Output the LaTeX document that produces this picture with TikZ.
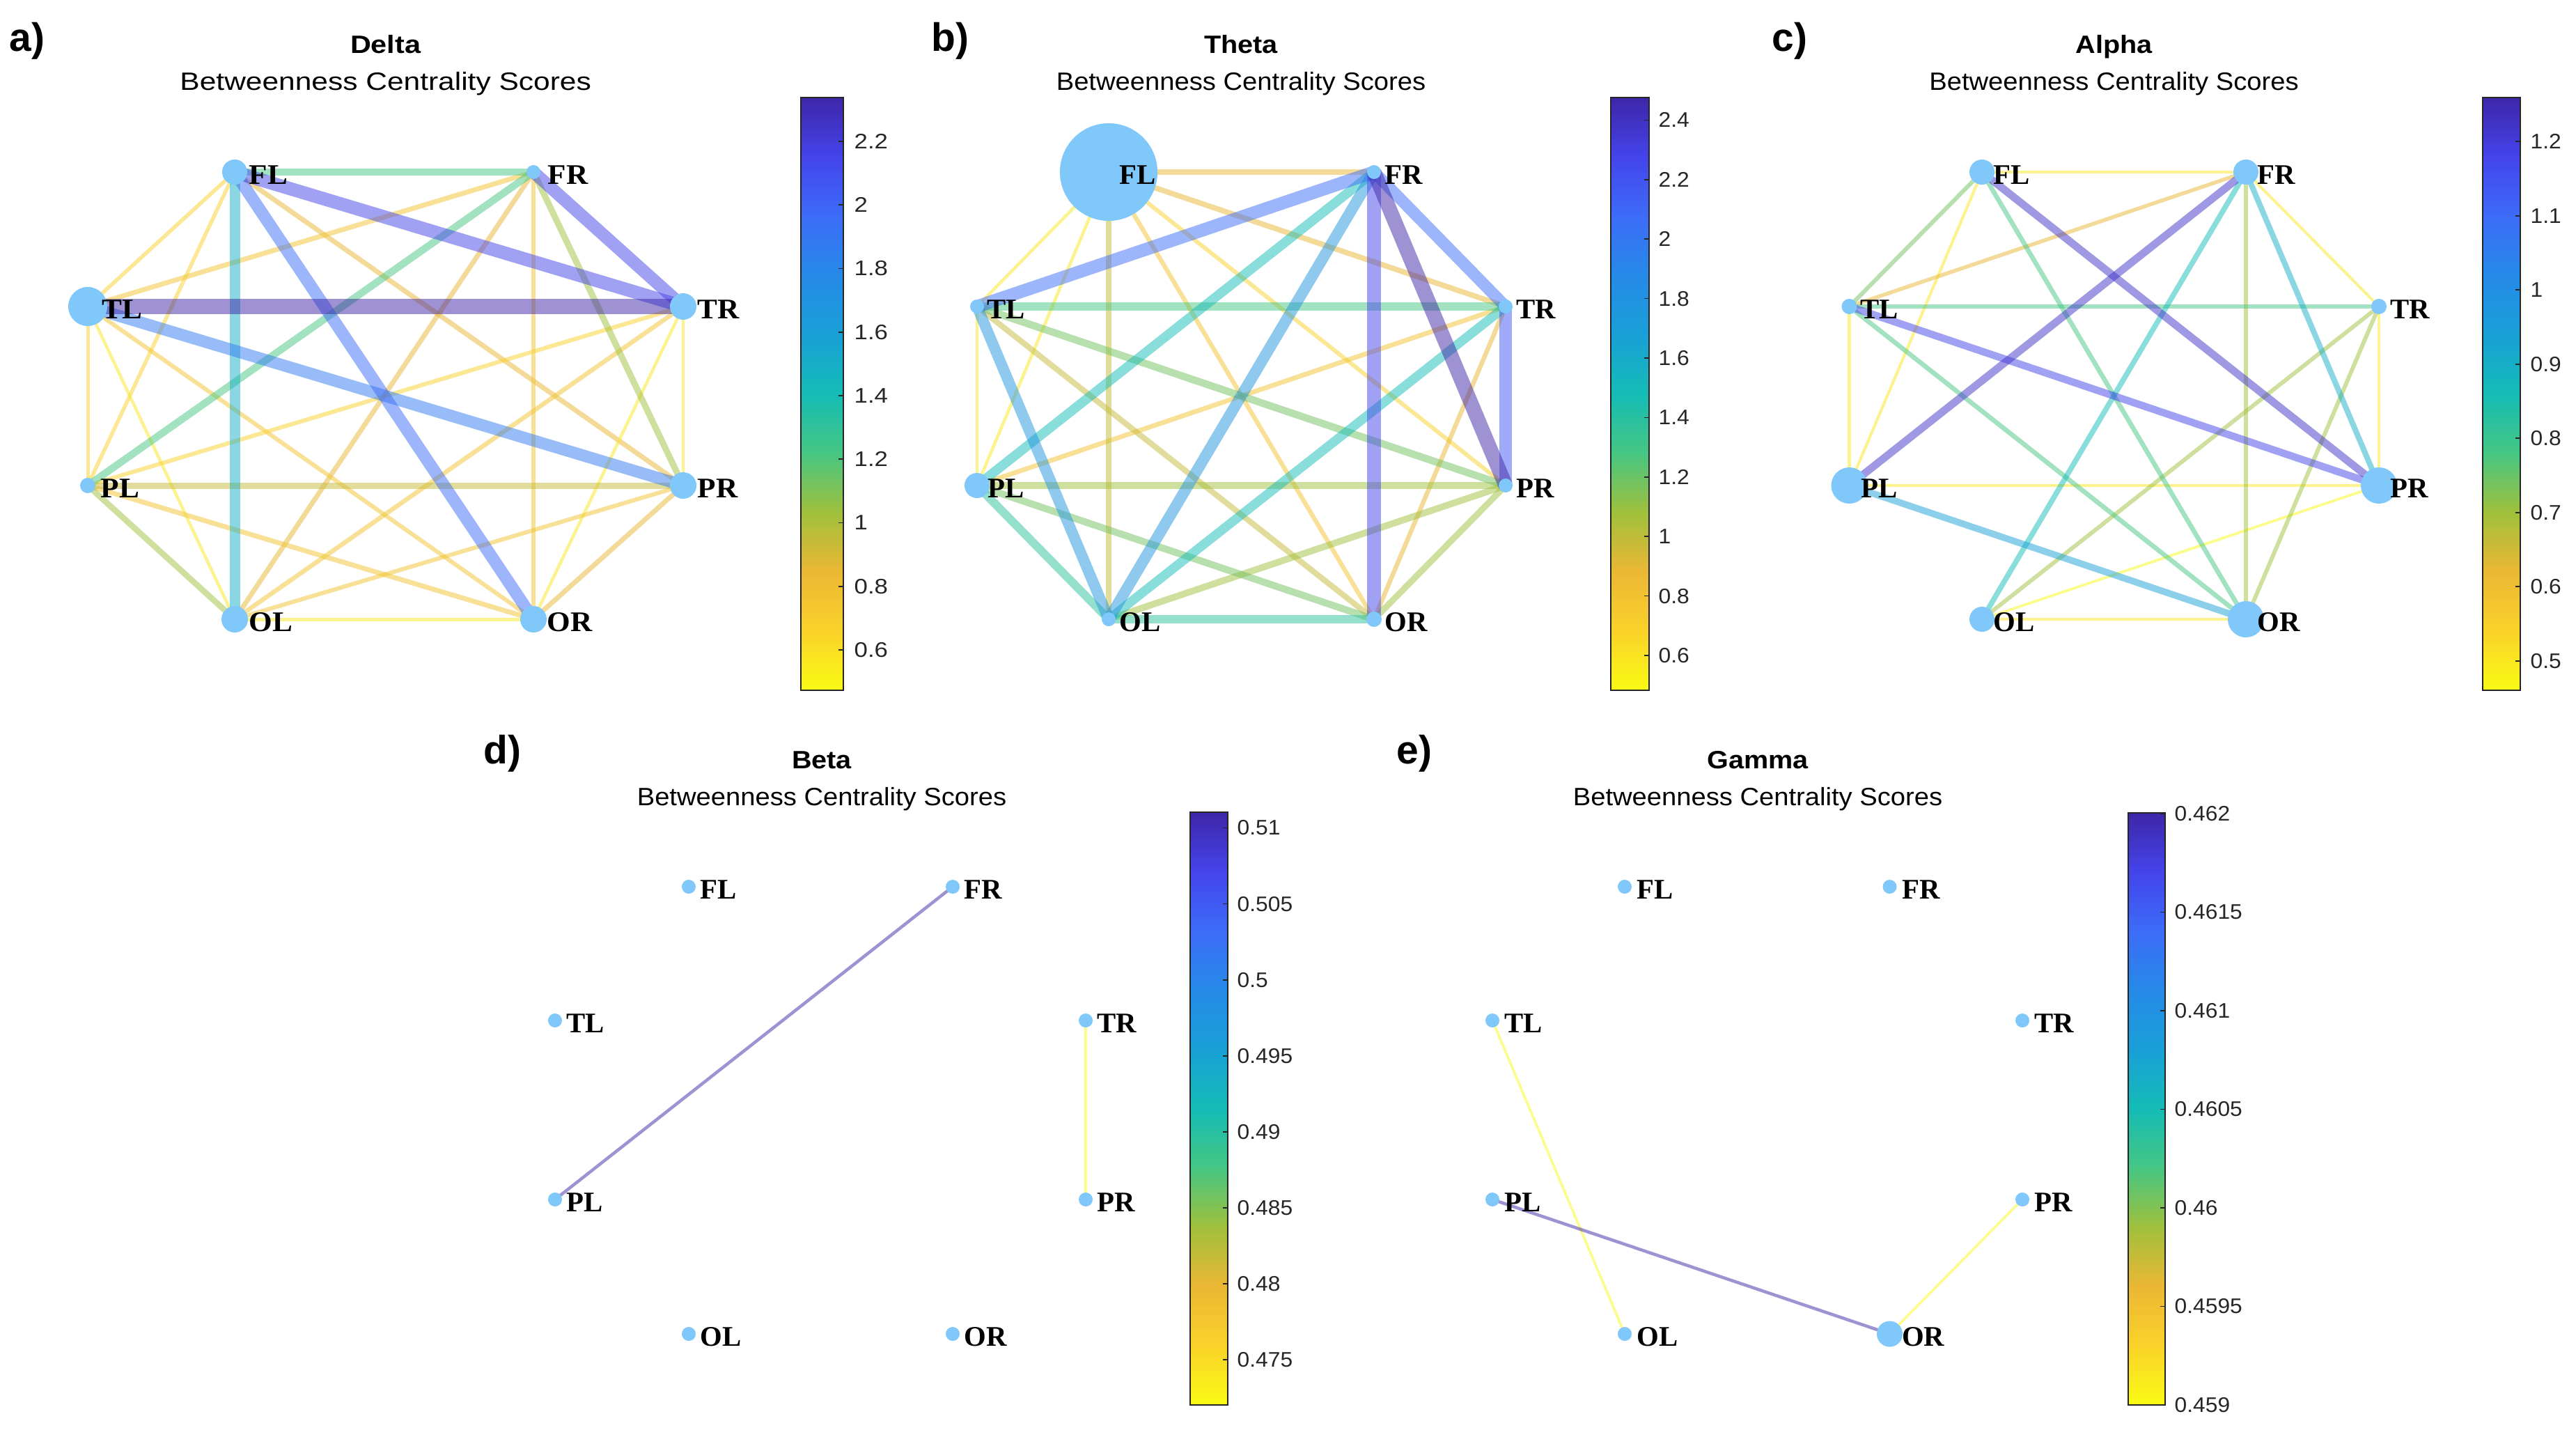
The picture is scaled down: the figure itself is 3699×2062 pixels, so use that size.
\documentclass[tikz,border=0pt]{standalone}
\usepackage{fontspec}
\setmainfont{Liberation Sans}
\newfontfamily\tms{Liberation Serif}
\usepackage{graphicx}
\definecolor{P0}{RGB}{62,38,168}
\definecolor{P1}{RGB}{68,68,235}
\definecolor{P2}{RGB}{60,108,248}
\definecolor{P3}{RGB}{38,138,232}
\definecolor{P4}{RGB}{25,160,215}
\definecolor{P5}{RGB}{20,188,182}
\definecolor{P6}{RGB}{70,198,130}
\definecolor{P7}{RGB}{160,192,60}
\definecolor{P8}{RGB}{235,183,52}
\definecolor{P9}{RGB}{250,210,42}
\definecolor{P10}{RGB}{249,251,20}
\colorlet{c0}{P0}\colorlet{c1}{P0!50!P1}\colorlet{c2}{P1}\colorlet{c3}{P1!50!P2}
\colorlet{c4}{P2}\colorlet{c5}{P2!50!P3}\colorlet{c6}{P3}\colorlet{c7}{P3!50!P4}
\colorlet{c8}{P4}\colorlet{c9}{P4!50!P5}\colorlet{c10}{P5}\colorlet{c11}{P5!50!P6}
\colorlet{c12}{P6}\colorlet{c13}{P6!50!P7}\colorlet{c14}{P7}\colorlet{c15}{P7!50!P8}
\colorlet{c16}{P8}\colorlet{c17}{P8!50!P9}\colorlet{c18}{P9}\colorlet{c19}{P9!50!P10}
\colorlet{c20}{P10}
\definecolor{nodecol}{RGB}{128,200,250}
\definecolor{tkgray}{RGB}{38,38,38}
\pgfdeclareverticalshading{parula}{100bp}{color(0bp)=(P10); color(25bp)=(P10); color(30bp)=(P9); color(35bp)=(P8); color(40bp)=(P7); color(45bp)=(P6); color(50bp)=(P5); color(55bp)=(P4); color(60bp)=(P3); color(65bp)=(P2); color(70bp)=(P1); color(75bp)=(P0); color(100bp)=(P0)}
\newcommand\hsc[2]{\scalebox{#1}[1]{#2}}
\newcommand\labsc{1.02}
\newcommand\eightcoords[9]{%
  \coordinate (#1FL) at (#2,#6); \coordinate (#1FR) at (#3,#6);
  \coordinate (#1TL) at (#4,#7); \coordinate (#1TR) at (#5,#7);
  \coordinate (#1PL) at (#4,#8); \coordinate (#1PR) at (#5,#8);
  \coordinate (#1OL) at (#2,#9); \coordinate (#1OR) at (#3,#9);}
\newcommand\ed[5]{\draw[edge, draw=c#4, line width=#5*0.2845pt] (#1#2) -- (#1#3);}
\newcommand\vx[4]{%
  \node[vtx, minimum size=#3*0.02cm] (#1#2v) at (#1#2) {};
  \node[lab, anchor=west] (#1#2l) at ([shift={(#4,4)}]#1#2) {\hsc{\labsc}{#2}};}
\newcommand\cbar[5]{% prefix, x1, x2, ytop, ybot
  \shade[shading=parula] (#2,#4) rectangle (#3,#5);
  \draw[cbf] (#2,#4) rectangle (#3,#5);}
\tikzset{
  edge/.style={draw opacity=0.5},
  vtx/.style={circle, fill=nodecol, draw=none, inner sep=0pt, outer sep=0pt},
  lab/.style={inner sep=0pt, font={\tms\bfseries\fontsize{11.6}{13}\selectfont}, text=black},
  ttl/.style={inner sep=0pt, font={\bfseries\fontsize{10.24}{12}\selectfont}, text=black},
  subt/.style={inner sep=0pt, font={\fontsize{10.24}{12}\selectfont}, text=black},
  tk/.style={inner sep=0pt, font={\fontsize{8.6}{10}\selectfont}, text=tkgray, anchor=west},
  plab/.style={inner sep=0pt, font={\bfseries\fontsize{16.2}{18}\selectfont}, text=black, anchor=base west},
  cbf/.style={draw=tkgray, line width=0.45pt},
  cbt/.style={draw=tkgray, line width=0.45pt}
}
\begin{document}
\begin{tikzpicture}[x=0.01cm,y=-0.01cm]
\fill[white] (0,0) rectangle (3699,2062);
\useasboundingbox (0,0) rectangle (3699,2062);

% ---------------- Panel a (Delta)
\renewcommand\labsc{1.06}
\eightcoords{a}{337}{766}{126}{981}{247}{440}{697}{889}
\ed{a}{FL}{TL}{18}{5.5}
\ed{a}{FL}{PL}{18}{5.5}
\ed{a}{FL}{PR}{16}{7}
\ed{a}{FR}{TL}{17}{7}
\ed{a}{FR}{OL}{16}{7}
\ed{a}{FR}{OR}{17}{6}
\ed{a}{TL}{PL}{18}{5}
\ed{a}{TL}{OL}{19}{4.5}
\ed{a}{TL}{OR}{17}{6}
\ed{a}{TR}{PL}{18}{6}
\ed{a}{TR}{OL}{17}{6.5}
\ed{a}{TR}{PR}{19}{4.5}
\ed{a}{TR}{OR}{19}{4.5}
\ed{a}{PL}{OR}{17}{7}
\ed{a}{PR}{OL}{17}{6}
\ed{a}{PR}{OR}{16}{7}
\ed{a}{OL}{OR}{19}{5}
\ed{a}{FL}{FR}{12}{10.5}
\ed{a}{FR}{PL}{12}{10.5}
\ed{a}{FR}{PR}{14}{9}
\ed{a}{PL}{PR}{15}{9}
\ed{a}{PL}{OL}{14}{8.5}
\ed{a}{FL}{OL}{9}{15}
\ed{a}{TL}{PR}{5}{17}
\ed{a}{FL}{OR}{4}{17.5}
\ed{a}{FL}{TR}{2}{19}
\ed{a}{FR}{TR}{2}{18}
\ed{a}{TL}{TR}{0}{21.5}
\vx{a}{FL}{18}{20}\vx{a}{FR}{10}{20}\vx{a}{TL}{28}{20}\vx{a}{TR}{19}{20}
\vx{a}{PL}{11}{18}\vx{a}{PR}{19}{20}\vx{a}{OL}{19}{20}\vx{a}{OR}{19}{19}
\node[ttl, anchor=base] (aT) at (553.7,76) {\hsc{1.15}{Delta}};
\node[subt, anchor=base] (aS) at (553.7,129.5) {\hsc{1.18}{Betweenness Centrality Scores}};
\node[plab] (aP) at (13,73) {a)};
\cbar{a}{1150}{1211}{140}{991}
\foreach \v/\y [count=\i] in {2.2/203,2/294.25,1.8/385.5,1.6/476.75,1.4/568,1.2/659.25,1/750.5,0.8/841.75,0.6/933}{
  \draw[cbt] (1204,\y) -- (1211,\y);
  \node[tk] (atk\i) at (1226,\y) {\hsc{1.15}{\v}};}

% ---------------- Panel b (Theta)
\renewcommand\labsc{1.0}
\eightcoords{b}{1592}{1973}{1403}{2162}{247}{440}{697}{889}
\ed{b}{FL}{TL}{19}{4.5}
\ed{b}{FL}{PL}{19}{4.5}
\ed{b}{TL}{PL}{19}{4}
\ed{b}{FL}{PR}{18}{5.9}
\ed{b}{FL}{OR}{17}{6.4}
\ed{b}{TR}{PL}{17}{6.8}
\ed{b}{TR}{OR}{16}{6.5}
\ed{b}{FL}{TR}{16}{7.7}
\ed{b}{FL}{FR}{16}{8}
\ed{b}{FL}{OL}{15}{8.5}
\ed{b}{TL}{OR}{15}{8.2}
\ed{b}{PR}{OR}{14}{9}
\ed{b}{PR}{OL}{14}{9.5}
\ed{b}{PL}{PR}{14}{9.5}
\ed{b}{PL}{OR}{13}{10}
\ed{b}{TL}{PR}{13}{10.5}
\ed{b}{PL}{OL}{11}{12}
\ed{b}{OL}{OR}{11}{12.5}
\ed{b}{TL}{TR}{12}{12.5}
\ed{b}{TR}{OL}{10}{13.2}
\ed{b}{FR}{PL}{10}{13.6}
\ed{b}{FR}{OL}{7}{16}
\ed{b}{TL}{OL}{7}{15.8}
\ed{b}{FR}{TL}{4}{18.4}
\ed{b}{FR}{TR}{4}{17}
\ed{b}{TR}{PR}{3}{18.5}
\ed{b}{FR}{OR}{2}{20}
\ed{b}{FR}{PR}{0}{21}
\vx{b}{FL}{70}{15}\vx{b}{FR}{10}{15}\vx{b}{TL}{10}{14}\vx{b}{TR}{10}{15}
\vx{b}{PL}{18}{15}\vx{b}{PR}{10}{15}\vx{b}{OL}{10}{15}\vx{b}{OR}{11}{15}
\node[ttl, anchor=base] (bT) at (1782,76) {\hsc{1.1}{Theta}};
\node[subt, anchor=base] (bS) at (1782,129.5) {\hsc{1.06}{Betweenness Centrality Scores}};
\node[plab] (bP) at (1337,73) {b)};
\cbar{b}{2313}{2368}{140}{991}
\foreach \v/\y [count=\i] in {2.4/172.4,2.2/257.8,2/343.2,1.8/428.6,1.6/514,1.4/599.4,1.2/684.8,1/770.2,0.8/855.6,0.6/941}{
  \draw[cbt] (2361,\y) -- (2368,\y);
  \node[tk] (btk\i) at (2381,\y) {\hsc{1.05}{\v}};}

% ---------------- Panel c (Alpha)
\eightcoords{c}{2846}{3225}{2655.5}{3416}{247}{440}{697}{889}
\ed{c}{PR}{OL}{20}{3.8}
\ed{c}{FL}{FR}{19}{4.2}
\ed{c}{FL}{PL}{19}{4.2}
\ed{c}{FR}{TR}{19}{4}
\ed{c}{TL}{PL}{19}{4.2}
\ed{c}{TR}{PR}{19}{4.2}
\ed{c}{PL}{PR}{19}{4.3}
\ed{c}{OL}{OR}{19}{4.3}
\ed{c}{FR}{TL}{16}{5.5}
\ed{c}{FR}{OR}{14}{5.9}
\ed{c}{TR}{OL}{14}{5.9}
\ed{c}{TR}{OR}{14}{5.9}
\ed{c}{FL}{TL}{13}{6}
\ed{c}{FL}{OR}{12}{6.7}
\ed{c}{TL}{TR}{12}{6.7}
\ed{c}{TL}{OR}{12}{6.7}
\ed{c}{FR}{OL}{10}{7.6}
\ed{c}{FR}{PR}{9}{8}
\ed{c}{PL}{OR}{8}{9.5}
\ed{c}{TL}{PR}{2}{10.5}
\ed{c}{FL}{PR}{1}{11}
\ed{c}{FR}{PL}{1}{11}
\vx{c}{FL}{18}{16}\vx{c}{FR}{18}{16}\vx{c}{TL}{11}{15}\vx{c}{TR}{11}{16}
\vx{c}{PL}{26}{16}\vx{c}{PR}{26}{16}\vx{c}{OL}{18}{16}\vx{c}{OR}{26}{16}
\node[ttl, anchor=base] (cT) at (3035.5,76) {\hsc{1.1}{Alpha}};
\node[subt, anchor=base] (cS) at (3035.5,129.5) {\hsc{1.06}{Betweenness Centrality Scores}};
\node[plab] (cP) at (2544,73) {c)};
\cbar{c}{3565}{3619}{140}{991}
\foreach \v/\y [count=\i] in {1.2/203.2,1.1/309.7,1/416.2,0.9/522.7,0.8/629.2,0.7/735.7,0.6/842.2,0.5/948.7}{
  \draw[cbt] (3612,\y) -- (3619,\y);
  \node[tk] (ctk\i) at (3633,\y) {\hsc{1.05}{\v}};}

% ---------------- Panel d (Beta)
\eightcoords{d}{989}{1368}{797}{1559}{1273}{1465}{1722}{1915}
\ed{d}{TR}{PR}{20}{3.5}
\ed{d}{PL}{FR}{0}{4.5}
\vx{d}{FL}{10}{16}\vx{d}{FR}{10}{16}\vx{d}{TL}{10}{16}\vx{d}{TR}{10}{16}
\vx{d}{PL}{10}{16}\vx{d}{PR}{10}{16}\vx{d}{OL}{10}{16}\vx{d}{OR}{10}{16}
\node[ttl, anchor=base] (dT) at (1180,1103) {\hsc{1.1}{Beta}};
\node[subt, anchor=base] (dS) at (1180,1156) {\hsc{1.06}{Betweenness Centrality Scores}};
\node[plab] (dP) at (694,1096) {d)};
\cbar{d}{1709}{1763}{1166}{2017}
\foreach \v/\y [count=\i] in {0.51/1188.5,0.505/1297.6,0.5/1407,0.495/1516,0.49/1625,0.485/1734,0.48/1843,0.475/1952}{
  \draw[cbt] (1756,\y) -- (1763,\y);
  \node[tk] (dtk\i) at (1776,\y) {\hsc{1.05}{\v}};}

% ---------------- Panel e (Gamma)
\eightcoords{e}{2333}{2713.5}{2143}{2904}{1273}{1465}{1722}{1915}
\ed{e}{TL}{OL}{20}{3.5}
\ed{e}{PR}{OR}{20}{3.5}
\ed{e}{PL}{OR}{0}{4.5}
\vx{e}{FL}{10}{17}\vx{e}{FR}{10}{17}\vx{e}{TL}{10}{17}\vx{e}{TR}{10}{17}
\vx{e}{PL}{10}{17}\vx{e}{PR}{10}{17}\vx{e}{OL}{10}{17}\vx{e}{OR}{18.5}{17}
\node[ttl, anchor=base] (eT) at (2524,1103) {\hsc{1.1}{Gamma}};
\node[subt, anchor=base] (eS) at (2524,1156) {\hsc{1.06}{Betweenness Centrality Scores}};
\node[plab] (eP) at (2005,1096) {e)};
\cbar{e}{3056}{3109}{1167}{2017}
\foreach \v/\y [count=\i] in {0.462/1168,0.4615/1309.5,0.461/1451,0.4605/1592.5,0.46/1734,0.4595/1875.5,0.459/2017}{
  \draw[cbt] (3102,\y) -- (3109,\y);
  \node[tk] (etk\i) at (3122,\y) {\hsc{1.05}{\v}};}
\end{tikzpicture}
\end{document}
